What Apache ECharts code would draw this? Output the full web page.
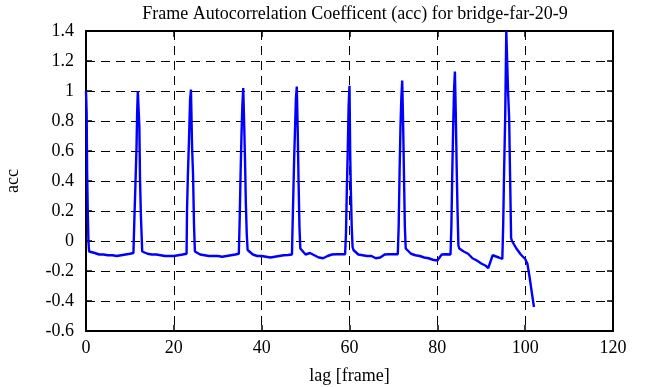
<!DOCTYPE html>
<html><head><meta charset="utf-8">
<script src="https://cdn.jsdelivr.net/npm/echarts@6/dist/echarts.min.js"></script>
<style>html,body{margin:0;padding:0;background:#fff}#c{width:651px;height:387px}</style>
</head><body><div id="c"></div>
<script>
const titleText = "Frame Autocorrelation Coefficent (acc) for bridge-far-20-9";
const xName = "lag [frame]";
const yName = "acc";
const xTicks = [0, 20, 40, 60, 80, 100, 120];
const yTicks = [-0.6, -0.4, -0.2, 0, 0.2, 0.4, 0.6, 0.8, 1, 1.2, 1.4];

const lags = [
 0, 0.1, 0.15, 0.25, 0.4, 0.55, 0.7, 1, 2, 3, 4, 5, 6, 7, 8, 9, 10, 10.8,
 11.0, 11.25, 11.5, 11.65, 11.8, 12.0, 12.15, 12.3, 12.5, 12.65, 12.8,
 13, 14, 15, 16, 17, 18, 19, 20, 21, 22, 22.9,
 23.0, 23.2, 23.46, 23.7, 23.9, 24.15, 24.37, 24.6, 24.8,
 25, 26, 27, 28, 29, 30, 31, 32, 33, 34, 34.8,
 35.0, 35.2, 35.4, 35.6, 35.8, 36.0, 36.2, 36.4, 36.6, 36.8,
 37, 38, 39, 40, 41, 42, 43, 44, 45, 46, 46.9,
 47.0, 47.2, 47.4, 47.6, 47.8, 48.0, 48.2, 48.4, 48.6, 48.8,
 49, 50, 51, 52, 53, 54, 55, 56, 57, 58, 59,
 59.2, 59.4, 59.6, 59.8, 60.0, 60.15, 60.3, 60.5, 60.7, 60.9,
 61, 62, 63, 64, 65, 66, 67, 68, 69, 70, 71,
 71.2, 71.4, 71.6, 71.8, 72.0, 72.2, 72.4, 72.6, 72.8,
 73, 74, 75, 76, 77, 78, 79, 80, 81, 82, 83,
 83.2, 83.4, 83.6, 83.8, 84.0, 84.2, 84.4, 84.6, 84.8,
 85, 86, 87, 88, 89, 90, 91, 91.6, 92.6, 93, 94, 94.8,
 95.0, 95.2, 95.45, 95.7, 96.0, 96.1, 96.35, 96.6, 96.8,
 97, 98, 99, 100, 100.5, 101, 102
];
const acc = [
 1.0, 0.99, 0.85, 0.47, 0.2, 0.0, -0.07, -0.07, -0.08, -0.09, -0.09, -0.095, -0.095, -0.1, -0.095, -0.09, -0.085, -0.08,
 0.13, 0.37, 0.62, 0.86, 1.0, 1.0, 0.76, 0.41, 0.17, 0.05, -0.07,
 -0.07, -0.085, -0.09, -0.09, -0.095, -0.1, -0.1, -0.1, -0.095, -0.09, -0.085,
 0.2, 0.44, 0.68, 0.94, 1.01, 0.63, 0.45, 0.1, -0.07,
 -0.07, -0.09, -0.095, -0.1, -0.1, -0.1, -0.105, -0.1, -0.095, -0.09, -0.085,
 0.15, 0.45, 0.7, 0.9, 1.02, 0.8, 0.55, 0.25, 0.05, -0.06,
 -0.07, -0.09, -0.1, -0.1, -0.105, -0.11, -0.105, -0.1, -0.095, -0.093, -0.09,
 0.05, 0.3, 0.55, 0.75, 0.95, 1.03, 0.75, 0.4, 0.1, -0.05,
 -0.06, -0.09, -0.08, -0.095, -0.11, -0.115, -0.1, -0.09, -0.088, -0.088, -0.088,
 0.05, 0.35, 0.6, 0.9, 1.035, 0.6, 0.35, 0.1, -0.04, -0.06,
 -0.07, -0.09, -0.095, -0.1, -0.1, -0.115, -0.11, -0.09, -0.088, -0.088, -0.088,
 0.1, 0.45, 0.75, 0.95, 1.07, 0.8, 0.45, 0.1, -0.05,
 -0.06, -0.085, -0.095, -0.1, -0.11, -0.115, -0.125, -0.13, -0.09, -0.088, -0.09,
 0.1, 0.45, 0.75, 1.0, 1.13, 0.85, 0.5, 0.2, -0.03,
 -0.05, -0.07, -0.085, -0.115, -0.13, -0.15, -0.165, -0.18, -0.095, -0.105, -0.11, -0.12,
 0.11, 0.46, 0.82, 1.4, 1.4, 1.0, 0.82, 0.37, 0.02,
 0.0, -0.05, -0.09, -0.12, -0.15, -0.24, -0.44
];

const font = "Liberation Serif";
const chart = echarts.init(document.getElementById('c'), null, {renderer: 'canvas'});
const data = lags.map((x, i) => [x, acc[i]]);
const common = {
  axisLine: {show: true, onZero: false, lineStyle: {color: '#000', width: 2}},
  axisTick: {show: true, inside: true, length: 6, lineStyle: {color: '#000', width: 1.5}},
};
chart.setOption({
  animation: false,
  backgroundColor: '#fff',
  title: {text: titleText, left: 350, textAlign: 'center', top: 0,
    textStyle: {fontFamily: font, fontSize: 18, fontWeight: 'normal', color: '#000'}},
  grid: {left: 86, right: 38, top: 31, bottom: 56, containLabel: false, outerBoundsMode: 'none'},
  xAxis: [{
    type: 'value', min: xTicks[0], max: xTicks[xTicks.length - 1], interval: 20,
    position: 'bottom',
    name: xName, nameLocation: 'middle', nameGap: 36,
    nameTextStyle: {fontFamily: font, fontSize: 18, color: '#000'},
    ...common,
    axisLabel: {fontFamily: font, fontSize: 18, color: '#000', margin: 8},
    splitLine: {show: true, lineStyle: {color: '#000', type: [9, 6], width: 1}}
  }, {
    type: 'value', min: xTicks[0], max: xTicks[xTicks.length - 1], interval: 20,
    position: 'top', ...common, axisLabel: {show: false}, splitLine: {show: false}
  }],
  yAxis: [{
    type: 'value', min: yTicks[0], max: yTicks[yTicks.length - 1], interval: 0.2,
    name: yName, nameLocation: 'middle', nameGap: 64, nameRotate: 90,
    nameTextStyle: {fontFamily: font, fontSize: 18, color: '#000'},
    ...common,
    axisLabel: {fontFamily: font, fontSize: 18, color: '#000', margin: 12,
      formatter: v => String(Math.round(v * 10) / 10)},
    splitLine: {show: true, lineStyle: {color: '#000', type: [9, 6], width: 1}}
  }, {
    type: 'value', min: yTicks[0], max: yTicks[yTicks.length - 1], interval: 0.2,
    position: 'right', ...common, axisLabel: {show: false}, splitLine: {show: false}
  }],
  series: [{
    type: 'line', data: data, xAxisIndex: 0, yAxisIndex: 0,
    showSymbol: false, symbol: 'none', clip: true,
    lineStyle: {color: '#0000ff', width: 2.4}
  }]
});
</script></body></html>
